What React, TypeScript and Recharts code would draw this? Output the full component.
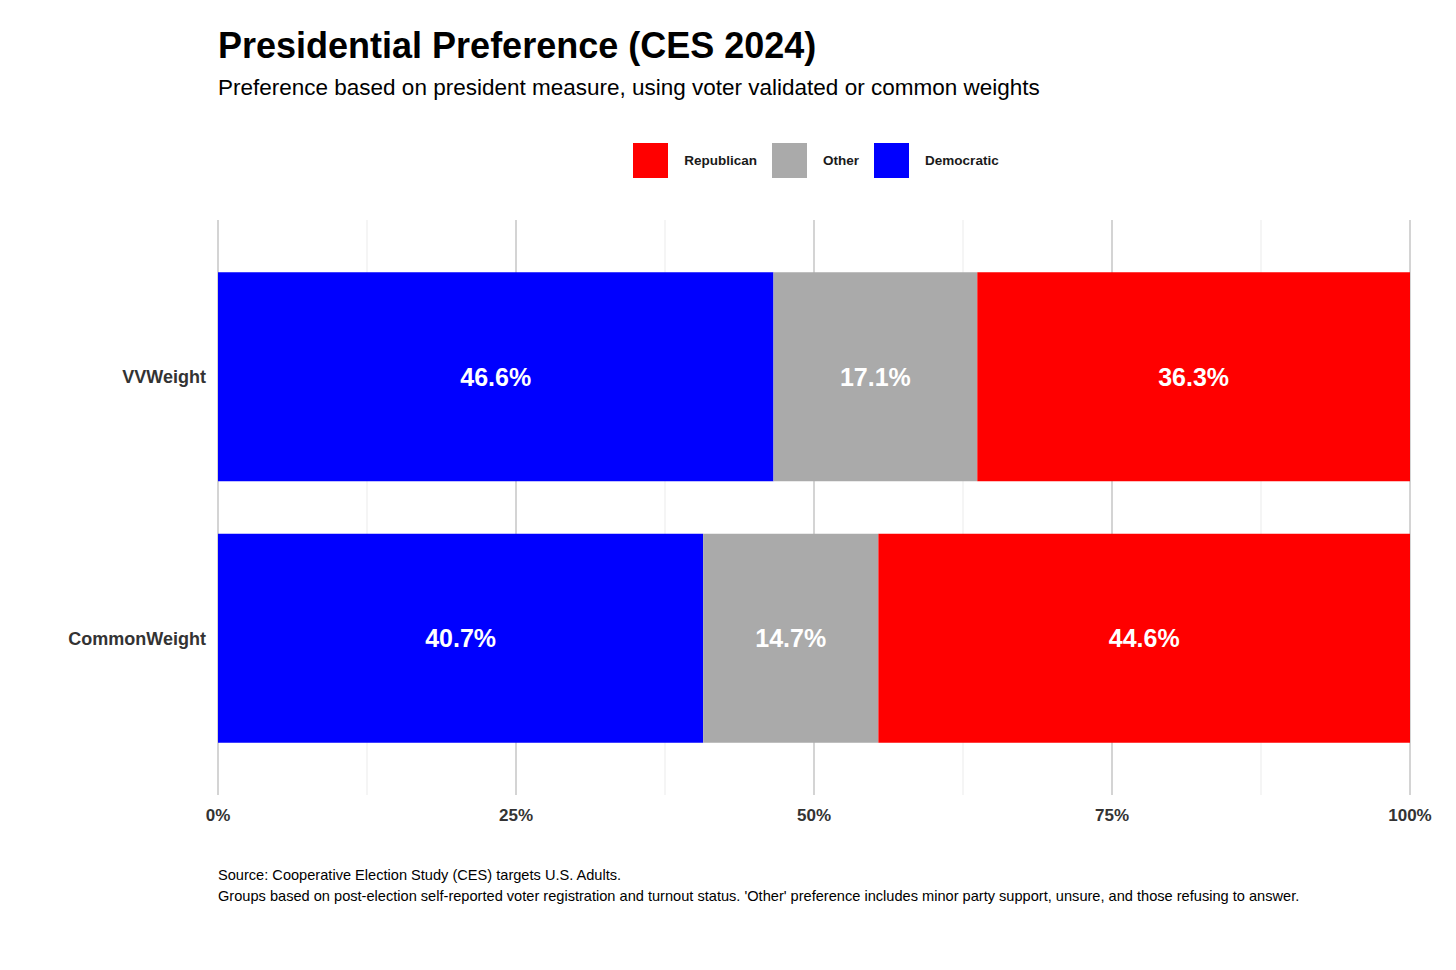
import React from 'react';
import {
  BarChart,
  Bar,
  XAxis,
  YAxis,
  CartesianGrid,
  LabelList
} from 'recharts';

const groups = ['VVWeight', 'CommonWeight'];
const democratic = [46.6, 40.7];
const other = [17.1, 14.7];
const republican = [36.3, 44.6];
const majorTicks = [0, 25, 50, 75, 100];
const minorTicks = [12.5, 37.5, 62.5, 87.5];

const data = groups.map((g, i) => ({
  group: g,
  Democratic: democratic[i],
  Other: other[i],
  Republican: republican[i]
}));

const FONT = '"Liberation Sans", Arial, sans-serif';

const series = [
  { key: 'Democratic', color: '#0000FF' },
  { key: 'Other', color: '#AAAAAA' },
  { key: 'Republican', color: '#FF0000' }
];

const LegendBox = () => (
  <div style={{ display: 'flex', justifyContent: 'center', alignItems: 'center', fontFamily: FONT }}>
    {[...series].reverse().map((s, i) => (
      <div key={s.key} style={{ display: 'flex', alignItems: 'center', marginLeft: i === 0 ? 0 : 15 }}>
        <div style={{ width: 35, height: 35, background: s.color }} />
        <span style={{ marginLeft: 16, fontSize: 13.5, fontWeight: 'bold', color: '#1a1a1a' }}>{s.key}</span>
      </div>
    ))}
  </div>
);

// minor grid lines placed through the x scale
const minorLines = ({ xAxis, offset }: any) =>
  minorTicks.map((v) =>
    xAxis && typeof xAxis.scale === 'function'
      ? xAxis.scale(v)
      : offset.left + (offset.width * v) / 100
  );

export default function App() {
  return (
    <div style={{ position: 'absolute', left: 0, top: 0, width: 1456, height: 970, background: '#fff', fontFamily: FONT }}>
      <div style={{ position: 'absolute', left: 218, top: 25, fontSize: 36, fontWeight: 'bold', color: '#000' }}>
        Presidential Preference (CES 2024)
      </div>
      <div style={{ position: 'absolute', left: 218, top: 75, fontSize: 22.5, color: '#000' }}>
        Preference based on president measure, using voter validated or common weights
      </div>
      <div style={{ position: 'absolute', left: 220, top: 143, width: 1192 }}>
        <LegendBox />
      </div>
      <BarChart
        width={1456}
        height={970}
        data={data}
        layout="vertical"
        margin={{ top: 220, right: 46, bottom: 0, left: 0 }}
        barCategoryGap="10%"
      >
        <CartesianGrid
          horizontal={false}
          stroke="#ebebeb"
          strokeWidth={1}
          verticalCoordinatesGenerator={minorLines}
        />
        <CartesianGrid horizontal={false} stroke="#d4d4d4" strokeWidth={2} />
        <XAxis
          type="number"
          domain={[0, 100]}
          ticks={majorTicks}
          tickFormatter={(v) => `${v}%`}
          axisLine={false}
          tickLine={false}
          tickMargin={8}
          height={175}
          tick={{ fill: '#333', fontSize: 17, fontWeight: 'bold', fontFamily: FONT }}
        />
        <YAxis
          type="category"
          dataKey="group"
          width={218}
          axisLine={false}
          tickLine={false}
          tickMargin={6}
          padding={{ top: 26, bottom: 26 }}
          tick={{ fill: '#333', fontSize: 18, fontWeight: 'bold', fontFamily: FONT }}
        />
        {series.map((s) => (
          <Bar key={s.key} dataKey={s.key} stackId="a" fill={s.color} isAnimationActive={false}>
            <LabelList
              dataKey={s.key}
              position="center"
              formatter={(v: any) => `${Number(v).toFixed(1)}%`}
              fill="#fff"
              style={{ fontSize: 25, fontWeight: 'bold', fontFamily: FONT }}
            />
          </Bar>
        ))}
      </BarChart>
      <div style={{ position: 'absolute', left: 218, top: 865, fontSize: 14.6, color: '#000', lineHeight: '21px' }}>
        <div>Source: Cooperative Election Study (CES) targets U.S. Adults.</div>
        <div>
          Groups based on post-election self-reported voter registration and turnout status. 'Other' preference includes minor party support, unsure, and those refusing to answer.
        </div>
      </div>
    </div>
  );
}
